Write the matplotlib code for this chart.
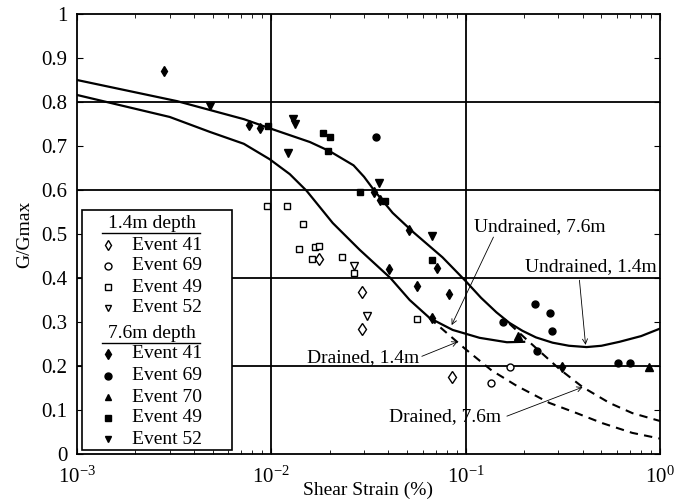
import matplotlib
matplotlib.use("Agg")
import matplotlib.pyplot as plt
from matplotlib.patches import Rectangle
from matplotlib.lines import Line2D
from matplotlib.ticker import FuncFormatter, LogLocator, MultipleLocator

plt.rcParams["font.family"] = ["Liberation Serif", "DejaVu Serif"]
plt.rcParams["mathtext.fontset"] = "stix"

# 1.4 m depth records (open symbols)
s14_e41_x = [0.0175, 0.0292, 0.0292, 0.0847]
s14_e41_y = [0.443, 0.368, 0.284, 0.175]
s14_e69_x = [0.1346, 0.170]
s14_e69_y = [0.161, 0.198]
s14_e49_x = [0.00948, 0.0120, 0.01452, 0.01385, 0.01674, 0.01755, 0.01615, 0.0230, 0.0265, 0.056]
s14_e49_y = [0.564, 0.564, 0.523, 0.466, 0.470, 0.472, 0.443, 0.448, 0.411, 0.307]
s14_e52_x = [0.0265, 0.031]
s14_e52_y = [0.427, 0.314]

# 7.6 m depth records (filled symbols)
s76_e41_x = [0.0028, 0.00766, 0.00873, 0.0337, 0.0361, 0.0402, 0.0509, 0.056, 0.0668, 0.071, 0.0818, 0.312]
s76_e41_y = [0.870, 0.748, 0.741, 0.595, 0.577, 0.420, 0.509, 0.382, 0.309, 0.423, 0.364, 0.198]
s76_e69_x = [0.0344, 0.155, 0.2265, 0.2705, 0.277, 0.232, 0.605, 0.697]
s76_e69_y = [0.720, 0.300, 0.341, 0.320, 0.280, 0.234, 0.207, 0.207]
s76_e70_x = [0.185, 0.873]
s76_e70_y = [0.268, 0.198]
s76_e49_x = [0.0096, 0.0184, 0.0200, 0.01954, 0.0285, 0.0384, 0.0668]
s76_e49_y = [0.745, 0.730, 0.720, 0.689, 0.595, 0.575, 0.441]
s76_e52_x = [0.00483, 0.01291, 0.0132, 0.01217, 0.0357, 0.0668]
s76_e52_y = [0.791, 0.761, 0.750, 0.684, 0.616, 0.495]

# model curves
und14_x = [0.001, 0.00327, 0.00722, 0.01, 0.0158, 0.02, 0.0265, 0.03, 0.0337, 0.0421, 0.0535,
           0.076, 0.1, 0.12, 0.144, 0.168, 0.196, 0.23, 0.28, 0.34, 0.419, 0.5, 0.619, 0.8, 1.0]
und14_y = [0.850, 0.802, 0.761, 0.739, 0.709, 0.688, 0.656, 0.630, 0.600, 0.548, 0.505,
           0.447, 0.393, 0.355, 0.322, 0.298, 0.280, 0.265, 0.253, 0.246, 0.243, 0.246, 0.255, 0.268, 0.285]
und76_x = [0.001, 0.0030, 0.00483, 0.00722, 0.0098, 0.01245, 0.0152, 0.0207, 0.0285, 0.041, 0.0515,
           0.0653, 0.0857, 0.118, 0.163, 0.2]
und76_y = [0.816, 0.766, 0.732, 0.705, 0.670, 0.636, 0.598, 0.525, 0.464, 0.400, 0.350,
           0.309, 0.282, 0.264, 0.254, 0.255]
dr76_x = [0.168, 0.206, 0.304, 0.4, 0.55, 0.72, 1.0]
dr76_y = [0.296, 0.260, 0.193, 0.152, 0.116, 0.093, 0.075]
dr14_x = [0.065, 0.0735, 0.1, 0.136, 0.183, 0.27, 0.372, 0.506, 0.72, 1.0]
dr14_y = [0.309, 0.289, 0.238, 0.190, 0.155, 0.116, 0.093, 0.070, 0.048, 0.035]

fig = plt.figure(figsize=(6.88, 5.0), dpi=100)
ax = fig.add_axes([0.1119, 0.092, 0.8474, 0.88])
ax.set_xscale("log")
ax.set_xlim(1e-3, 1)
ax.set_ylim(0, 1)

for g in [0.2, 0.4, 0.6, 0.8]:
    ax.axhline(g, color="k", lw=1.3, zorder=1)
for g in [0.01, 0.1]:
    ax.axvline(g, color="k", lw=1.3, zorder=1)

ax.plot(und14_x, und14_y, "k-", lw=1.6, zorder=2)
ax.plot(und76_x, und76_y, "k-", lw=1.6, zorder=2)
ax.plot(dr76_x, dr76_y, "k", lw=1.5, ls=(0, (4, 3)), zorder=2)
ax.plot(dr14_x, dr14_y, "k", lw=1.5, ls=(0, (4, 3)), zorder=2)

open_kw = dict(ls="none", mfc="white", mec="k", mew=1.0, zorder=3)
fill_kw = dict(ls="none", mfc="k", mec="k", zorder=3)
series = [
    (s14_e41_x, s14_e41_y, "d", 6, open_kw),
    (s14_e69_x, s14_e69_y, "o", 5, open_kw),
    (s14_e49_x, s14_e49_y, "s", 5, open_kw),
    (s14_e52_x, s14_e52_y, "v", 6, open_kw),
    (s76_e41_x, s76_e41_y, "d", 5, fill_kw),
    (s76_e69_x, s76_e69_y, "o", 5, fill_kw),
    (s76_e70_x, s76_e70_y, "^", 6, fill_kw),
    (s76_e49_x, s76_e49_y, "s", 5, fill_kw),
    (s76_e52_x, s76_e52_y, "v", 6, fill_kw),
]
for xs, ys, m, ms, kw in series:
    ax.plot(xs, ys, marker=m, ms=ms, **kw)

# curve labels
arw = dict(arrowstyle="->", lw=0.6, color="k", mutation_scale=9, shrinkA=0, shrinkB=0)
fs = 14
ax.text(0.111, 0.516, "Undrained, 7.6m", ha="left", va="center", fontsize=fs)
ax.annotate("", xy=(0.0847, 0.293), xytext=(0.139, 0.493), arrowprops=arw)
ax.text(0.203, 0.425, "Undrained, 1.4m", ha="left", va="center", fontsize=fs, clip_on=True)
ax.annotate("", xy=(0.414, 0.248), xytext=(0.385, 0.395), arrowprops=arw)
ax.text(0.0152, 0.218, "Drained, 1.4m", ha="left", va="center", fontsize=fs)
ax.annotate("", xy=(0.091, 0.255), xytext=(0.0595, 0.222), arrowprops=arw)
ax.text(0.0402, 0.084, "Drained, 7.6m", ha="left", va="center", fontsize=fs)
ax.annotate("", xy=(0.4, 0.152), xytext=(0.163, 0.086), arrowprops=arw)

# legend box drawn in axes fraction
tr = ax.transAxes
ax.add_patch(Rectangle((0.0086, 0.009), 0.2574, 0.5455, transform=tr,
                       fc="white", ec="k", lw=1.2, zorder=5))

def px_y(py):
    return (454 - py) / 440.0

rows = [
    ("1.4m depth", None, None, 223),
    ("Event 41", "d", "white", 245),
    ("Event 69", "o", "white", 266),
    ("Event 49", "s", "white", 287),
    ("Event 52", "v", "white", 308),
    ("7.6m depth", None, None, 333),
    ("Event 41", "d", "k", 354),
    ("Event 69", "o", "k", 376),
    ("Event 70", "^", "k", 397),
    ("Event 49", "s", "k", 418),
    ("Event 52", "v", "k", 439),
]
for label, m, fc, py in rows:
    yy = px_y(py)
    if m is None:
        ax.text(0.129, yy, label, transform=tr, ha="center", va="center",
                fontsize=fs, zorder=6)
        ly = px_y(py + 10)
        ax.add_line(Line2D([0.043, 0.211], [ly, ly], transform=tr,
                           color="k", lw=1.0, zorder=6))
    else:
        ax.add_line(Line2D([0.053], [yy], transform=tr, marker=m, ms=5,
                           mfc=fc, mec="k", mew=1.0, ls="none", zorder=6))
        ax.text(0.094, yy, label, transform=tr, ha="left", va="center",
                fontsize=fs, zorder=6)

ax.yaxis.set_major_locator(MultipleLocator(0.1))
ax.yaxis.set_major_formatter(FuncFormatter(lambda v, p: "%g" % round(v, 1)))
ax.xaxis.set_major_locator(LogLocator(base=10))
ax.xaxis.set_minor_locator(LogLocator(base=10, subs=range(2, 10)))
ax.tick_params(which="both", direction="in", top=True, right=True, labelsize=15)
ax.tick_params(which="major", length=4, width=0.8)
ax.tick_params(which="minor", length=3, width=0.6)
ax.tick_params(axis="y", pad=7)
ax.tick_params(axis="x", pad=9)
for s in ax.spines.values():
    s.set_linewidth(1.3)

# lift the bottom y label a little so it clears the 10^-3 label
ax.get_yticklabels()[0].set_va("bottom")

ax.set_xlabel("Shear Strain (%)", fontsize=14, labelpad=-4)
ax.set_ylabel("G/Gmax", fontsize=14, labelpad=6)

fig.savefig("out.png", dpi=100)
